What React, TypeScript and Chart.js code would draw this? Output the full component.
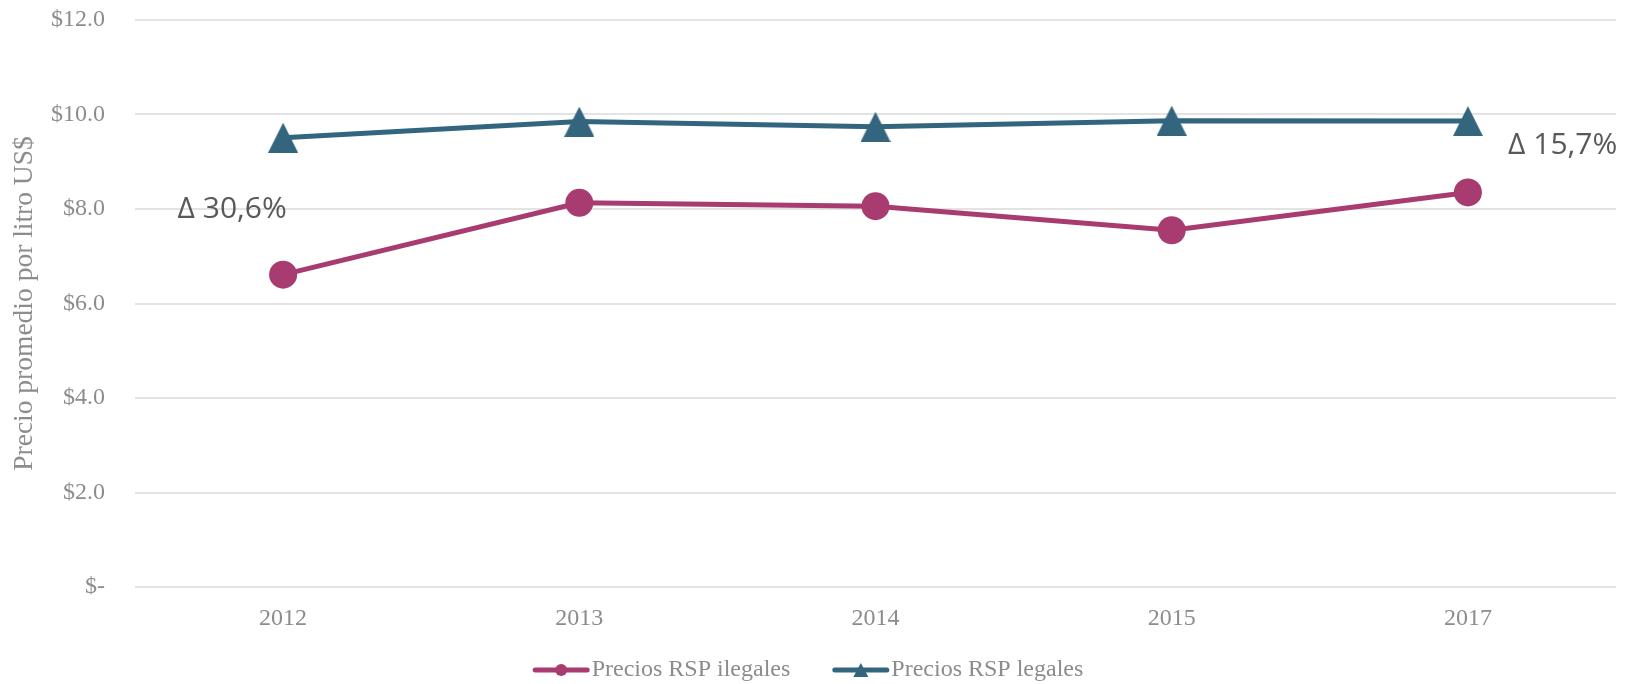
import { useEffect, useRef } from 'react';
import { Chart, registerables } from 'chart.js';

Chart.register(...registerables);

const years = ['2012', '2013', '2014', '2015', '2017'];
const illegalPrices = [6.61, 8.13, 8.06, 7.55, 8.35];
const legalPrices = [9.51, 9.85, 9.74, 9.87, 9.86];
const seriesLabels = ['Precios RSP ilegales', 'Precios RSP legales'];
const seriesColors = ['#A83B70', '#33657F'];
const yAxisTitle = 'Precio promedio por litro US$';
const yMin = 0;
const yMax = 12;
const yStep = 2;
const changeLabels = ['Δ 30,6%', 'Δ 15,7%'];
const changeLabelValues = [8.0, 9.34];

const SERIF = '"Liberation Serif", "Times New Roman", serif';
const SANS = '"Open Sans", "Noto Sans", sans-serif';
const GREY = '#8c8c8c';

function makeTriangle(color: string, w: number, h: number) {
  const c = document.createElement('canvas');
  c.width = w;
  c.height = h;
  const ctx = c.getContext('2d')!;
  ctx.fillStyle = color;
  ctx.beginPath();
  ctx.moveTo(w / 2, 0);
  ctx.lineTo(w, h);
  ctx.lineTo(0, h);
  ctx.closePath();
  ctx.fill();
  return c;
}

const annotationPlugin = {
  id: 'changeAnnotations',
  afterDatasetsDraw(chart: any) {
    const { ctx, scales } = chart;
    const x = scales.x;
    const y = scales.y;
    const step = x.getPixelForValue(1) - x.getPixelForValue(0);
    ctx.save();
    ctx.font = `30px ${SANS}`;
    ctx.fillStyle = '#595959';
    ctx.textAlign = 'center';
    ctx.textBaseline = 'middle';
    ctx.fillText(changeLabels[0], x.getPixelForValue(0) - step * 0.172, y.getPixelForValue(changeLabelValues[0]));
    ctx.fillText(changeLabels[1], x.getPixelForValue(years.length - 1) + step * 0.32, y.getPixelForValue(changeLabelValues[1]));
    ctx.restore();
  },
};

const legendPlugin = {
  id: 'lineLegend',
  afterDraw(chart: any) {
    const { ctx } = chart;
    ctx.save();
    ctx.font = `24px ${SERIF}`;
    const lineLen = 57;
    const textGap = 2;
    const itemGap = 42;
    const widths = chart.data.datasets.map((d: any) => lineLen + textGap + ctx.measureText(d.label).width);
    const total = widths.reduce((a: number, b: number) => a + b, 0) + itemGap * (widths.length - 1);
    let xPos = chart.width / 2 - 10 - total / 2;
    const yPos = chart.height - 14;
    chart.data.datasets.forEach((d: any, i: number) => {
      const color = d.borderColor;
      ctx.strokeStyle = color;
      ctx.fillStyle = color;
      ctx.lineWidth = 5;
      ctx.lineCap = 'round';
      ctx.beginPath();
      ctx.moveTo(xPos + 2.5, yPos);
      ctx.lineTo(xPos + lineLen - 2.5, yPos);
      ctx.stroke();
      const cx = xPos + lineLen / 2;
      if (i === 0) {
        ctx.beginPath();
        ctx.arc(cx, yPos, 6, 0, Math.PI * 2);
        ctx.fill();
      } else {
        ctx.beginPath();
        ctx.moveTo(cx, yPos - 7);
        ctx.lineTo(cx + 7.5, yPos + 7);
        ctx.lineTo(cx - 7.5, yPos + 7);
        ctx.closePath();
        ctx.fill();
      }
      ctx.fillStyle = GREY;
      ctx.textAlign = 'left';
      ctx.textBaseline = 'middle';
      ctx.fillText(d.label, xPos + lineLen + textGap, yPos);
      xPos += widths[i] + itemGap;
    });
    ctx.restore();
  },
};

export default function App() {
  const ref = useRef<HTMLCanvasElement | null>(null);

  useEffect(() => {
    document.body.style.margin = '0';
    if (!ref.current) return;
    const triangle = makeTriangle(seriesColors[1], 30, 30);
    const chart = new Chart(ref.current, {
      type: 'line',
      data: {
        labels: years,
        datasets: [
          {
            label: seriesLabels[0],
            data: illegalPrices,
            borderColor: seriesColors[0],
            backgroundColor: seriesColors[0],
            borderWidth: 5,
            pointStyle: 'circle',
            pointRadius: 14,
            pointBorderWidth: 0,
            pointBackgroundColor: seriesColors[0],
            tension: 0,
          },
          {
            label: seriesLabels[1],
            data: legalPrices,
            borderColor: seriesColors[1],
            backgroundColor: seriesColors[1],
            borderWidth: 5,
            pointStyle: triangle as any,
            pointRadius: 15,
            tension: 0,
          },
        ],
      },
      options: {
        animation: false,
        responsive: false,
        maintainAspectRatio: false,
        events: [],
        layout: { padding: { top: 19, right: 19, left: 0, bottom: 0 } },
        plugins: {
          legend: { display: false },
          tooltip: { enabled: false },
        },
        scales: {
          x: {
            type: 'category',
            offset: true,
            grid: { display: false, drawTicks: false },
            border: { display: false },
            ticks: {
              color: GREY,
              font: { family: SERIF, size: 24 },
              padding: 17,
            },
            afterFit: (s: any) => {
              s.height = 97;
              s.paddingLeft = 0;
              s.paddingRight = 0;
            },
          },
          y: {
            min: yMin,
            max: yMax,
            grid: { color: '#e3e3e3', lineWidth: 2, drawTicks: false },
            border: { display: false },
            ticks: {
              stepSize: yStep,
              color: GREY,
              font: { family: SERIF, size: 24 },
              padding: 30,
              callback: (v: any) => (Number(v) === 0 ? '$-' : '$' + Number(v).toFixed(1)),
            },
            title: {
              display: true,
              text: yAxisTitle,
              color: GREY,
              font: { family: SERIF, size: 27.5 },
              padding: { top: 8, bottom: 0 },
            },
            afterFit: (s: any) => {
              s.width = 135;
              s.paddingTop = 0;
              s.paddingBottom = 0;
            },
          },
        },
      },
      plugins: [annotationPlugin, legendPlugin],
    });
    return () => chart.destroy();
  }, []);

  return (
    <div style={{ width: 1636, height: 684 }}>
      <canvas ref={ref} width={1636} height={684} style={{ display: 'block' }} />
    </div>
  );
}
